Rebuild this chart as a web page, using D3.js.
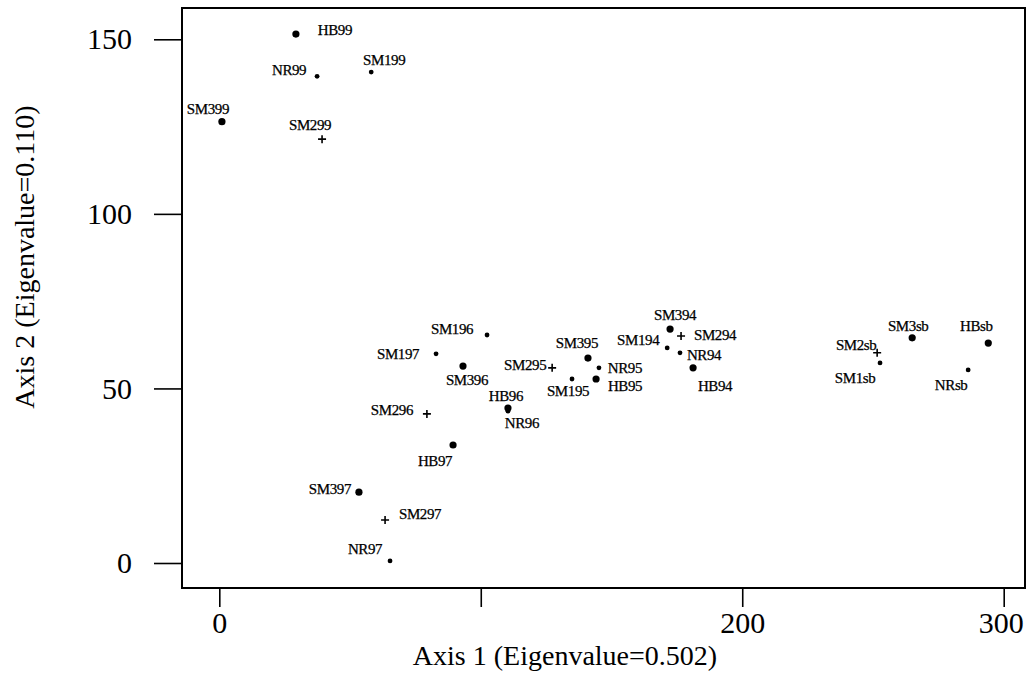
<!DOCTYPE html>
<html lang="en">
  <head>
    <meta charset="utf-8">
    <title>Ordination plot</title>
    <style>
		body{
			margin:0;
			background:#fff;
		}
		svg{
			display:block;
			font-family:"Liberation Serif", "Times New Roman", serif;
		}
		rect.frame{
			fill:none;
			stroke:#000;
			stroke-width:2;
		}
		.axis path{
			display:none;
		}
		.axis line{
			stroke:#000;
			stroke-width:1.6;
		}
		.axis text{
			font-family:"Liberation Serif", "Times New Roman", serif;
			font-size:30px;
			fill:#000;
		}
		text.title{
			font-size:28px;
			fill:#000;
		}
		text.lbl{
			font-size:15px;
			fill:#000;
			stroke:#000;
			stroke-width:0.25;
			letter-spacing:-0.4px;
		}
		circle.pt{
			fill:#000;
		}
		path.plus{
			stroke:#000;
			stroke-width:1.6;
			fill:none;
		}
    </style>
  </head>
  <body>
	<div id="container"></div>

	<script src="https://cdn.jsdelivr.net/npm/d3@7/dist/d3.min.js"></script>
	<script type="text/javascript">

		// sample names and scores on the two axes
		var names = ["HB99","NR99","SM199","SM399","SM299",
			"SM196","SM197","SM396","HB96","NR96","SM296",
			"HB97","SM397","SM297","NR97",
			"SM394","SM294","SM194","NR94","HB94",
			"SM395","NR95","HB95","SM195","SM295",
			"SM3sb","HBsb","SM2sb","SM1sb","NRsb"];
		var axis1 = [29.3, 37.4, 58.1, 1.0, 39.3,
			102.4, 82.9, 93.2, 110.4, 110.4, 79.4,
			89.4, 53.4, 63.4, 65.3,
			172.4, 176.6, 171.3, 176.2, 181.2,
			141.0, 145.2, 144.1, 134.9, 127.3,
			265.0, 294.1, 251.6, 252.7, 286.4];
		var axis2 = [151.5, 139.4, 140.6, 126.4, 121.4,
			65.3, 59.9, 56.4, 44.4, 43.5, 42.7,
			33.8, 20.3, 12.3, 0.6,
			67.0, 65.0, 61.6, 60.2, 55.9,
			58.7, 55.9, 52.7, 52.7, 55.9,
			64.5, 63.0, 60.2, 57.3, 55.3];

		var xTicks = [0, 100, 200, 300],
			xTickLabels = ["0", "", "200", "300"],
			yTicks = [0, 50, 100, 150];

		var xTitle = "Axis 1 (Eigenvalue=0.502)",
			yTitle = "Axis 2 (Eigenvalue=0.110)";

		// label offsets from the point (px), by name
		var labelOff = {
			HB99:[39,-4], NR99:[-28,-7], SM199:[13,-12], SM399:[-14,-13], SM299:[-12,-14],
			SM196:[-35,-6], SM197:[-38,0], SM396:[4,14], HB96:[-2,-12], NR96:[14,12], SM296:[-35,-4],
			HB97:[-18,16], SM397:[-29,-3], SM297:[35,-6], NR97:[-25,-12],
			SM394:[5,-14], SM294:[34,-1], SM194:[-29,-8], NR94:[24,2], HB94:[22,18],
			SM395:[-11,-15], NR95:[26,0], HB95:[29,7], SM195:[-4,12], SM295:[-27,-3],
			SM3sb:[-4,-12], HBsb:[-12,-17], SM2sb:[-21,-8], SM1sb:[-25,15], NRsb:[-17,15]
		};

		var width = 1027,
			height = 677;

		var data = names.map(function(n, i){
			return {name:n, x:axis1[i], y:axis2[i]};
		});

		var x = d3.scaleLinear().domain([0, 300]).range([219.3, 1003.7]);
		var y = d3.scaleLinear().domain([0, 150]).range([563, 39.3]);

		var svg = d3.select('#container').append('svg')
			.attr('width', width).attr('height', height);

		svg.append('rect').attr('class', 'frame')
			.attr('x', 182).attr('y', 8)
			.attr('width', 843).attr('height', 580);

		var xAxis = svg.append('g').attr('class', 'axis')
			.attr('transform', 'translate(0,588)')
			.call(d3.axisBottom(x).tickValues(xTicks)
				.tickFormat(function(d, i){ return xTickLabels[i]; })
				.tickSize(19).tickPadding(5).tickSizeOuter(0));
		// last label sits a little inside the right edge
		xAxis.selectAll('.tick text').filter(function(d){ return d == 300; }).attr('dx', -3);

		svg.append('g').attr('class', 'axis')
			.attr('transform', 'translate(182,0)')
			.call(d3.axisLeft(y).tickValues(yTicks)
				.tickSize(28).tickPadding(22).tickSizeOuter(0));

		svg.append('text').attr('class', 'title')
			.attr('x', 565).attr('y', 665)
			.attr('text-anchor', 'middle')
			.text(xTitle);

		svg.append('text').attr('class', 'title')
			.attr('transform', 'translate(34,257) rotate(-90)')
			.attr('text-anchor', 'middle')
			.text(yTitle);

		// marker type follows the sample group
		function kind(n){
			if(/^SM2/.test(n)) return 'plus';
			if(/^HB|^SM3/.test(n)) return 'big';
			return 'small';
		}

		var pts = svg.append('g');

		pts.selectAll('circle').data(data.filter(function(d){ return kind(d.name) != 'plus'; }))
			.enter().append('circle')
			.attr('class', 'pt')
			.attr('cx', function(d){ return x(d.x); })
			.attr('cy', function(d){ return y(d.y); })
			.attr('r', function(d){ return kind(d.name) == 'big' ? 3.6 : 2.4; });

		pts.selectAll('path').data(data.filter(function(d){ return kind(d.name) == 'plus'; }))
			.enter().append('path')
			.attr('class', 'plus')
			.attr('d', function(d){
				var cx = x(d.x), cy = y(d.y);
				return 'M' + (cx - 4) + ',' + cy + 'H' + (cx + 4) + 'M' + cx + ',' + (cy - 4) + 'V' + (cy + 4);
			});

		svg.append('g').selectAll('text').data(data)
			.enter().append('text')
			.attr('class', 'lbl')
			.attr('text-anchor', 'middle')
			.attr('dy', '0.35em')
			.attr('x', function(d){ return x(d.x) + labelOff[d.name][0]; })
			.attr('y', function(d){ return y(d.y) + labelOff[d.name][1]; })
			.text(function(d){ return d.name; });

	</script>
  </body>
</html>
